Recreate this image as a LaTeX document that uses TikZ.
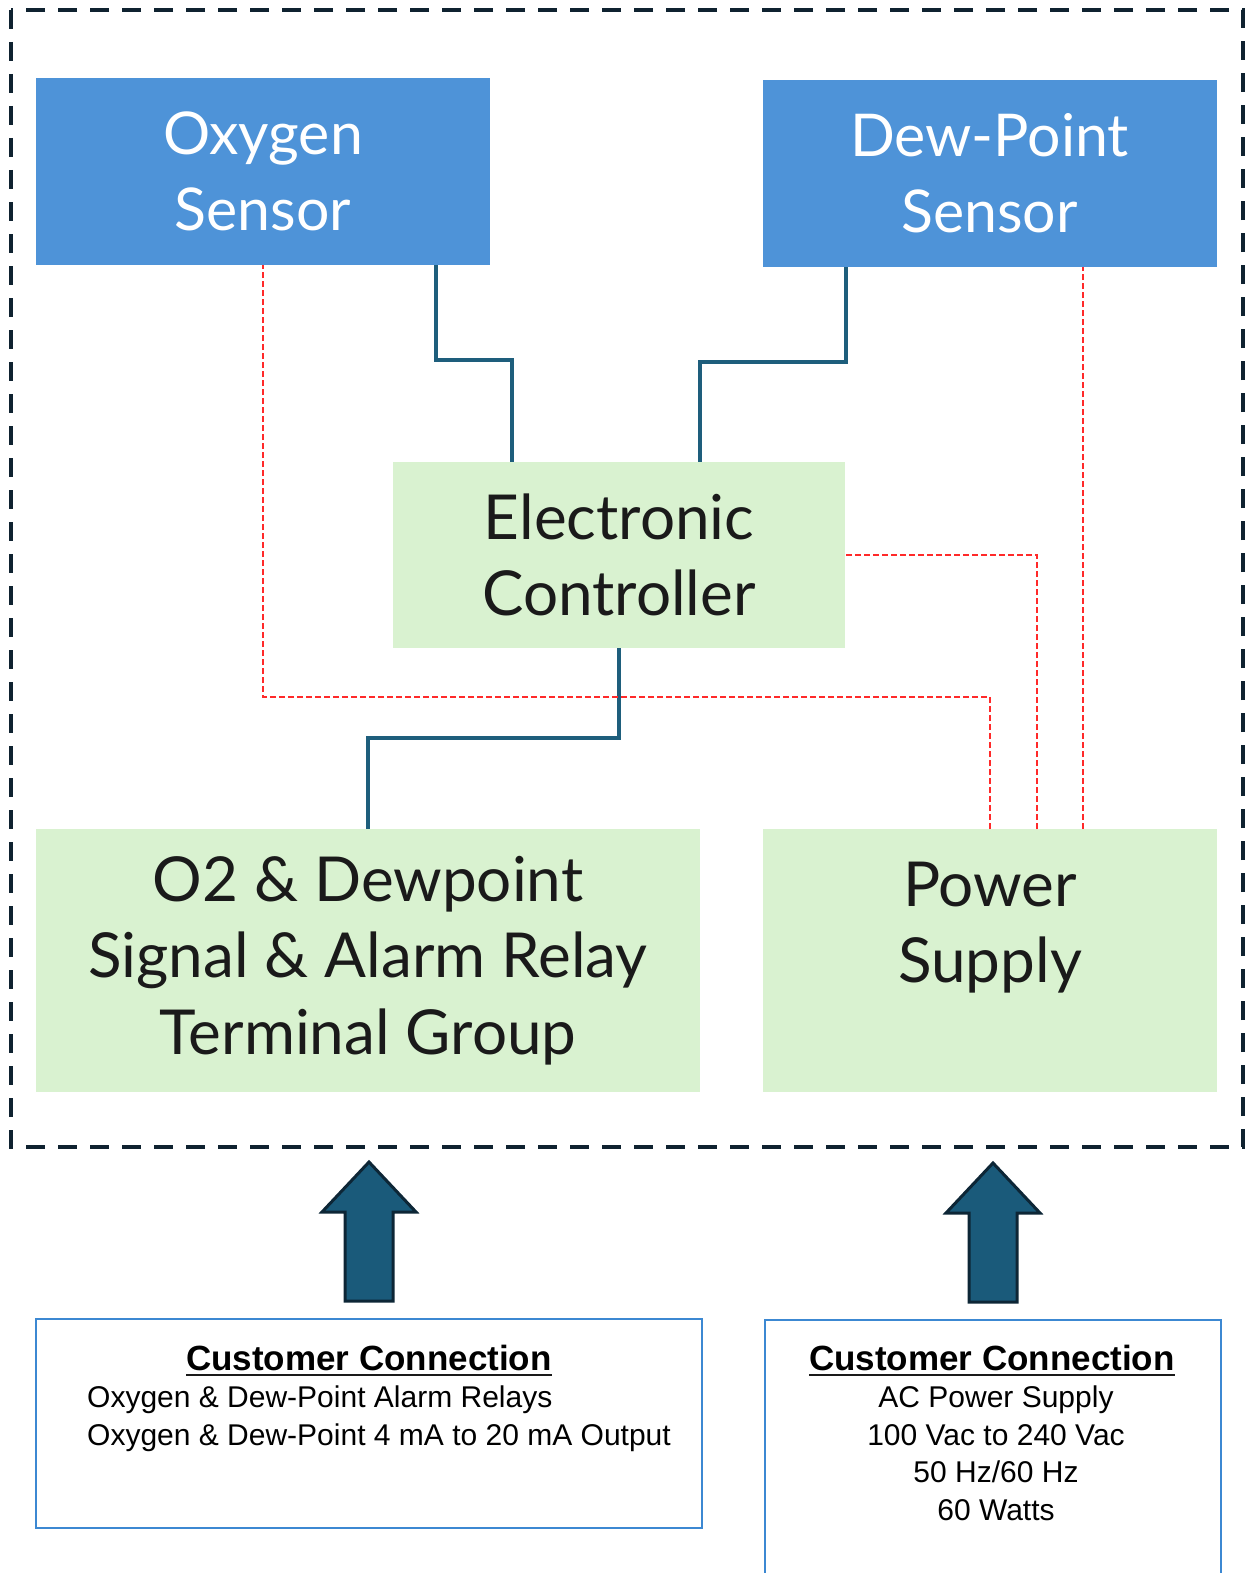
\documentclass[tikz,border=0pt]{standalone}
\usepackage{fontspec}
\setmainfont{Liberation Sans}
\newfontfamily\blockfont{Lato}
\definecolor{sensorblue}{HTML}{4E93D8}
\definecolor{unitgreen}{HTML}{D9F2D0}
\definecolor{wireblue}{HTML}{1E5E7C}
\definecolor{arrowfill}{HTML}{1A5A7A}
\definecolor{arrowedge}{HTML}{0D2636}
\definecolor{framecol}{HTML}{0F2230}
\definecolor{custline}{HTML}{3C88D2}
\definecolor{pwrred}{HTML}{FF2A2A}
\definecolor{inkblack}{HTML}{1A1A1A}
\begin{document}
\begin{tikzpicture}[x=1pt,y=-1pt,line join=miter,
  sensorbox/.style={rectangle,fill=sensorblue,text=white,inner sep=0,outer sep=0,
    minimum width=454,minimum height=187,align=center,
    font=\blockfont\fontsize{59}{76}\selectfont},
  unitbox/.style={rectangle,fill=unitgreen,text=inkblack,inner sep=0,outer sep=0,
    align=center,font=\blockfont\fontsize{62}{76.5}\selectfont},
  custbox/.style={rectangle,draw=custline,line width=2.5pt,inner sep=0,outer sep=0},
  headtext/.style={inner sep=0,font=\bfseries\fontsize{35}{37.5}\selectfont},
  headrule/.style={line width=2pt,inkblack},
  bodytext/.style={inner sep=0,font=\fontsize{30}{37.5}\selectfont},
  sigline/.style={draw=wireblue,line width=4pt},
  pwrline/.style={draw=pwrred,line width=2pt,dash pattern=on 6pt off 3pt},
  bigarrow/.style={fill=arrowfill,draw=arrowedge,line width=3pt},
  ]
\useasboundingbox (0,0) rectangle (1250,1573);
%%
  % Frame
  \draw[framecol,line width=4pt,dash pattern=on 19pt off 13pt] (11,10) rectangle (1243,1147);
  % Node: oxy
  \node[sensorbox] (oxy) at (263,171.5) {Oxygen\\Sensor};
  % Node: dew
  \node[sensorbox] (dew) at (989.5,173.5) {Dew-Point\\Sensor};
  % Node: ctrl
  \node[unitbox,minimum width=452,minimum height=186] (ctrl) at (619,555) {Electronic\\Controller};
  % Node: relay
  \node[unitbox,minimum width=664,minimum height=263] (relay) at (368,960.5) {O2 \& Dewpoint\\Signal \& Alarm Relay\\Terminal Group};
  % Node: psu
  \node[unitbox,minimum width=454,minimum height=263] (psu) at (990,960.5) {Power\\Supply\\\mbox{}};
  % Edge: oxy -> ctrl
  \draw[sigline] ([xshift=173pt]oxy.south) -- ++(0,95) -| ([xshift=-107pt]ctrl.north);
  % Edge: dew -> ctrl
  \draw[sigline] ([xshift=-143.5pt]dew.south) -- ++(0,95) -| ([xshift=81pt]ctrl.north);
  % Edge: ctrl -> relay
  \draw[sigline] (ctrl.south) -- ++(0,90) -| (relay.north);
  % Edge: psu -> oxy
  \draw[pwrline] (psu.north) -- ++(0,-132) -| (oxy.south);
  % Edge: psu -> ctrl
  \draw[pwrline] ([xshift=47pt]psu.north) |- (ctrl.east);
  % Edge: psu -> dew
  \draw[pwrline] ([xshift=93pt]psu.north) -- ([xshift=93.5pt]dew.south);
  % Node: custL
  \node[custbox,minimum width=666,minimum height=209,anchor=north west] (custL) at (36,1319) {};
  \node[headtext,anchor=base] (custLhead) at (369,1370) {Customer Connection};
  \draw[headrule] ([yshift=-5pt]custLhead.base west) -- ([yshift=-5pt]custLhead.base east);
  \node[bodytext,anchor=north west,align=left] (custLbody) at (87,1386)
    {Oxygen \& Dew-Point Alarm Relays\\Oxygen \& Dew-Point 4 mA to 20 mA Output};
  % Node: custR
  \node[custbox,minimum width=456,minimum height=300,anchor=north west] (custR) at (765,1320) {};
  \node[headtext,anchor=base] (custRhead) at (992,1370) {Customer Connection};
  \draw[headrule] ([yshift=-5pt]custRhead.base west) -- ([yshift=-5pt]custRhead.base east);
  \node[bodytext,anchor=north,align=center] (custRbody) at (996,1386)
    {AC Power Supply\\100 Vac to 240 Vac\\50 Hz/60 Hz\\60 Watts};
  % Arrows: customer -> unit
  \draw[bigarrow] ([yshift=18pt]custL.north) ++(-24,0) -- ++(0,-89) -- ++(-23,0) -- ++(47,-50)
    -- ++(47,50) -- ++(-23,0) -- ++(0,89) -- cycle;
  \draw[bigarrow] ([yshift=18pt]custR.north) ++(-24,0) -- ++(0,-89) -- ++(-23,0) -- ++(47,-50)
    -- ++(47,50) -- ++(-23,0) -- ++(0,89) -- cycle;
%
\end{tikzpicture}
\end{document}
